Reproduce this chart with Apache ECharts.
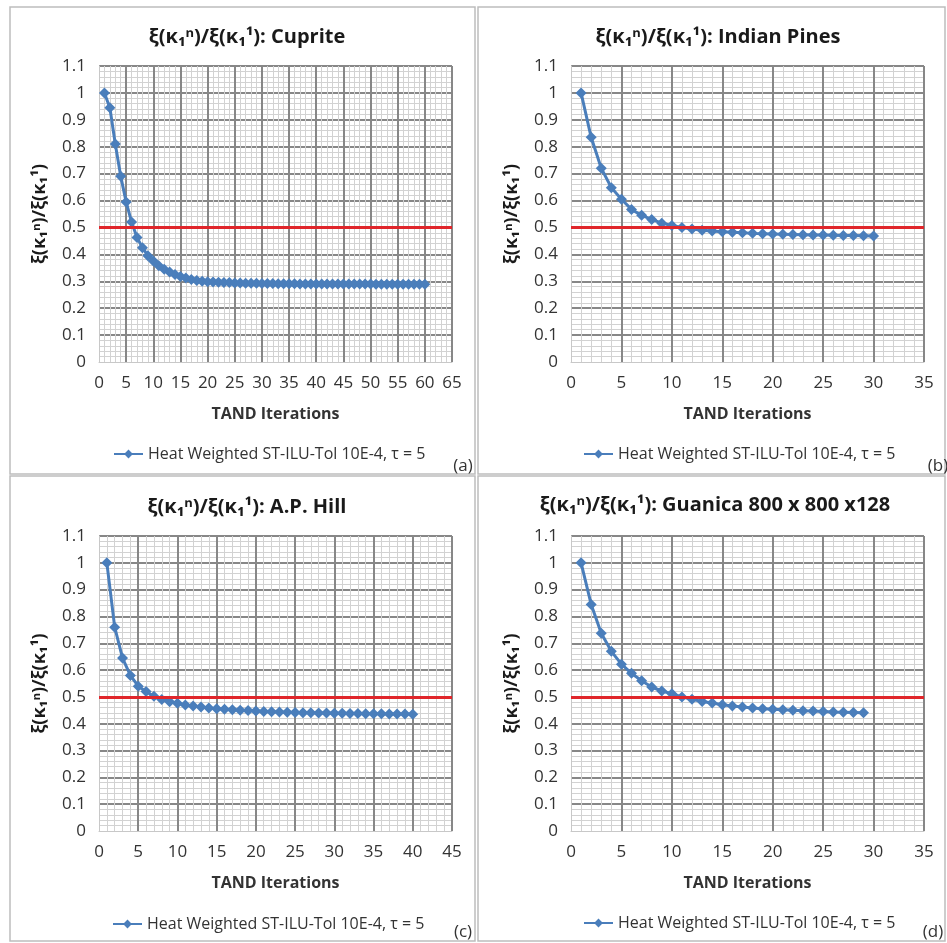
<!DOCTYPE html>
<html>
<head>
<meta charset="utf-8">
<script src="https://cdn.jsdelivr.net/npm/echarts@6/dist/echarts.min.js"></script>
<style>
  html, body {margin: 0; padding: 0; background: #fff;}
  #chart {width: 947px; height: 943px;}
</style>
</head>
<body>
<div id="chart"></div>
<script>
const seriesName = 'Heat Weighted ST-ILU-Tol 10E-4, τ = 5';
const panelTitles = [
  'ξ(κ₁ⁿ)/ξ(κ₁¹): Cuprite',
  'ξ(κ₁ⁿ)/ξ(κ₁¹): Indian Pines',
  'ξ(κ₁ⁿ)/ξ(κ₁¹): A.P. Hill',
  'ξ(κ₁ⁿ)/ξ(κ₁¹): Guanica 800 x 800 x128'
];
const panelTags = ['(a)', '(b)', '(c)', '(d)'];
const yAxisName = 'ξ(κ₁ⁿ)/ξ(κ₁¹)';
const xAxisName = 'TAND Iterations';
const xMaxes = [65, 35, 45, 35];
const threshold = 0.5;

const cupriteValues = [
  1.0, 0.945, 0.81, 0.69, 0.595, 0.52, 0.463, 0.425, 0.395, 0.375,
  0.358, 0.345, 0.334, 0.325, 0.318, 0.312, 0.307, 0.303, 0.3, 0.298,
  0.297, 0.296, 0.295, 0.295, 0.294, 0.294, 0.293, 0.293, 0.293, 0.292,
  0.292, 0.292, 0.291, 0.291, 0.291, 0.291, 0.29, 0.29, 0.29, 0.29,
  0.29, 0.29, 0.29, 0.29, 0.29, 0.29, 0.29, 0.29, 0.29, 0.29,
  0.289, 0.289, 0.289, 0.289, 0.289, 0.289, 0.289, 0.289, 0.289, 0.289
];
const indianPinesValues = [
  1.0, 0.835, 0.72, 0.648, 0.605, 0.567, 0.545, 0.53, 0.516, 0.507,
  0.5, 0.494, 0.49, 0.487, 0.484, 0.482, 0.48, 0.478, 0.477, 0.476,
  0.475, 0.474, 0.473, 0.472, 0.472, 0.471, 0.47, 0.47, 0.469, 0.468
];
const apHillValues = [
  1.0, 0.76, 0.645, 0.58, 0.54, 0.52, 0.502, 0.49, 0.482, 0.476,
  0.47, 0.466, 0.462, 0.459, 0.456, 0.454, 0.452, 0.45, 0.449, 0.447,
  0.446, 0.445, 0.444, 0.443, 0.442, 0.441, 0.441, 0.44, 0.44, 0.439,
  0.439, 0.438, 0.438, 0.437, 0.437, 0.437, 0.436, 0.436, 0.436, 0.435
];
const guanicaValues = [
  1.0, 0.845, 0.737, 0.67, 0.622, 0.588, 0.56, 0.537, 0.522, 0.512,
  0.5, 0.491, 0.483, 0.477, 0.471, 0.466, 0.462, 0.459, 0.456, 0.454,
  0.452, 0.45, 0.448, 0.447, 0.446, 0.444, 0.443, 0.442, 0.441
];
const allValues = [cupriteValues, indianPinesValues, apHillValues, guanicaValues];

// layout of the four panels (px)
const frames = [
  {x: 10, y: 7, w: 465, h: 467},
  {x: 478, y: 7, w: 467, h: 467},
  {x: 10, y: 476, w: 465, h: 465},
  {x: 478, y: 476, w: 467, h: 465}
];
const grids = [
  {left: 99, top: 66, width: 353, height: 296},
  {left: 571, top: 66, width: 353, height: 296},
  {left: 99, top: 536, width: 353, height: 295},
  {left: 571, top: 536, width: 353, height: 295}
];
const titleCenters = [[242, 22], [713, 22], [242, 492], [710, 490]];
const legendPos = [[108, 441], [578, 441], [107, 911], [578, 910]];
const tagPos = [[463, 466], [938, 466], [463, 932], [933, 932]];

const font = 'Open Sans';
const blue = '#4a7ebb';

const chart = echarts.init(document.getElementById('chart'));
chart.setOption({
  backgroundColor: '#fff',
  animation: false,
  title: panelTitles.map((t, i) => ({
    text: t,
    left: titleCenters[i][0],
    top: titleCenters[i][1],
    textAlign: 'center',
    textStyle: {fontFamily: font, fontSize: 20, fontWeight: 'bold', color: '#1a1a1a'}
  })),
  legend: legendPos.map(p => ({
    left: p[0],
    top: p[1],
    data: [seriesName],
    itemWidth: 29,
    itemHeight: 11,
    textStyle: {fontFamily: font, fontSize: 16, color: '#333'}
  })),
  grid: grids,
  xAxis: xMaxes.map((m, i) => ({
    gridIndex: i,
    type: 'value',
    min: 0,
    max: m,
    interval: 5,
    name: xAxisName,
    nameLocation: 'middle',
    nameGap: 44,
    nameTextStyle: {fontFamily: font, fontSize: 16, fontWeight: 'bold', color: '#333'},
    axisLine: {lineStyle: {color: '#c8c8c8'}},
    axisTick: {show: false},
    axisLabel: {fontFamily: font, fontSize: 17, color: '#333', margin: 13},
    splitLine: {show: true, showMinLine: false, lineStyle: {color: '#878787', width: 2}},
    minorTick: {show: false, splitNumber: 5},
    minorSplitLine: {show: true, lineStyle: {color: '#d2d2d2', width: 1}}
  })),
  yAxis: xMaxes.map((m, i) => ({
    gridIndex: i,
    type: 'value',
    min: 0,
    max: 1.1,
    interval: 0.1,
    name: yAxisName,
    nameLocation: 'middle',
    nameGap: 50,
    nameTextStyle: {fontFamily: font, fontSize: 18, fontWeight: 'bold', color: '#1a1a1a'},
    axisLine: {show: true, lineStyle: {color: '#c8c8c8'}},
    axisTick: {show: false},
    axisLabel: {fontFamily: font, fontSize: 17, color: '#333', margin: 13},
    splitLine: {show: true, showMinLine: false, lineStyle: {color: '#878787', width: 2}},
    minorTick: {show: false, splitNumber: 5},
    minorSplitLine: {show: true, lineStyle: {color: '#d2d2d2', width: 1}}
  })),
  series: allValues.map((vals, i) => ({
    name: seriesName,
    type: 'line',
    xAxisIndex: i,
    yAxisIndex: i,
    data: vals.map((v, k) => [k + 1, v]),
    symbol: 'diamond',
    symbolSize: 11,
    lineStyle: {color: blue, width: 3},
    itemStyle: {color: blue},
    markLine: {
      silent: true,
      symbol: 'none',
      label: {show: false},
      lineStyle: {color: '#e0262b', width: 3, type: 'solid'},
      data: [{yAxis: threshold}]
    }
  })),
  graphic: [
    ...frames.map(f => ({
      type: 'rect',
      silent: true,
      shape: {x: f.x, y: f.y, width: f.w, height: f.h},
      style: {fill: 'none', stroke: '#bdbdbd', lineWidth: 1.5}
    })),
    ...panelTags.map((t, i) => ({
      type: 'text',
      silent: true,
      x: tagPos[i][0],
      y: tagPos[i][1],
      style: {
        text: t,
        fontFamily: font,
        fontSize: 17,
        fill: '#333',
        align: 'center',
        verticalAlign: 'middle'
      }
    }))
  ]
});
</script>
</body>
</html>
